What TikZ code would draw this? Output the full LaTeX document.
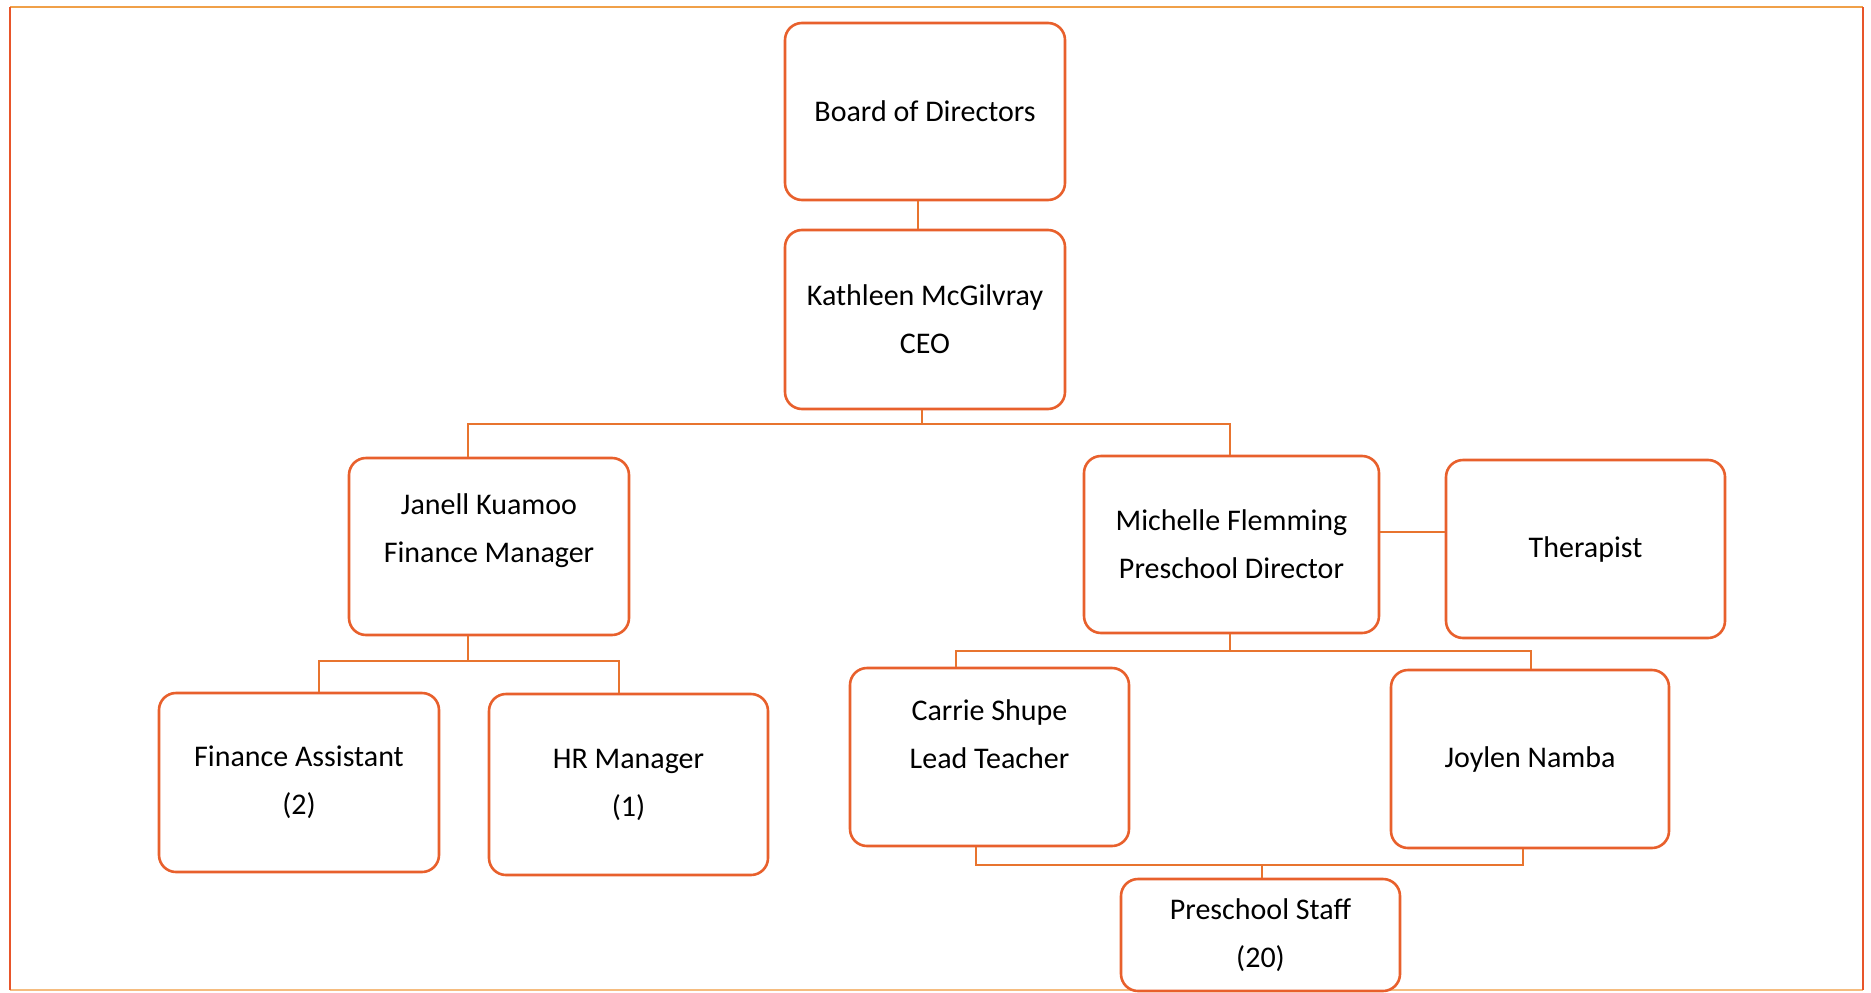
\documentclass[tikz,border=0pt]{standalone}
\usepackage{fontspec}
\setmainfont{Carlito}
\definecolor{boxline}{HTML}{E8602C}
\definecolor{wirec}{HTML}{E8742F}
\definecolor{frametop}{HTML}{F0A048}
\definecolor{frameside}{HTML}{E8552A}
\begin{document}
\begin{tikzpicture}[x=1pt,y=-1pt,
  unit/.style={draw=boxline, line width=2.6pt, rounded corners=17pt, fill=white,
    inner sep=0pt, align=center, font=\fontsize{30}{48}\selectfont},
  caption/.style={inner sep=0pt, align=center, font=\fontsize{30}{48}\selectfont},
  wire/.style={draw=wirec, line width=2pt}]
\useasboundingbox (0,0) rectangle (1871,993);

% outer frame
\draw[frametop, line width=2.2pt] (10,7) -- (1863,7);
\draw[frametop!70, line width=2pt] (10,990) -- (1863,990);
\draw[frameside, line width=2.2pt] (10,7) -- (10,990);
\draw[frameside, line width=2.2pt] (1863,7) -- (1863,990);

% units
\node[unit, minimum width=280pt, minimum height=177pt] (board) at (925,111.5) {Board of Directors};
\node[unit, minimum width=280pt, minimum height=179pt] (ceo) at (925,319.5) {Kathleen McGilvray\\CEO};
\node[unit, minimum width=280pt, minimum height=177pt] (janell) at (489,546.5) {};
\node[caption] at ([yshift=15.5pt]janell.center) {Janell Kuamoo\\Finance Manager};
\node[unit, minimum width=295pt, minimum height=177pt] (michelle) at (1231.5,544.5) {Michelle Flemming\\Preschool Director};
\node[unit, minimum width=279pt, minimum height=178pt] (therapist) at (1585.5,549) {Therapist};
\node[unit, minimum width=280pt, minimum height=179pt] (finassist) at (299,782.5) {Finance Assistant\\(2)};
\node[unit, minimum width=279pt, minimum height=181pt] (hr) at (628.5,784.5) {HR Manager\\(1)};
\node[unit, minimum width=279pt, minimum height=178pt] (carrie) at (989.5,757) {};
\node[caption] at ([yshift=23pt]carrie.center) {Carrie Shupe\\Lead Teacher};
\node[unit, minimum width=278pt, minimum height=178pt] (joylen) at (1530,759) {Joylen Namba};
\node[unit, minimum width=279pt, minimum height=112pt] (staff) at (1260.5,935) {Preschool Staff\\(20)};

% junction points of the bus lines
\coordinate (busceo) at (922,424);
\coordinate (busjanell) at (468,661);
\coordinate (busmichelle) at (1230,651);
\coordinate (busstaff) at (1262,865);

% reporting lines
\draw[wire] ([xshift=-7pt]board.south) -- ([xshift=-7pt]ceo.north);
\draw[wire] ([xshift=-3pt]ceo.south) -- (busceo);
\draw[wire] ([xshift=-21pt]janell.north) |- (busceo) -| ([xshift=-1.5pt]michelle.north);

\draw[wire] ([xshift=-21pt]janell.south) -- (busjanell);
\draw[wire] ([xshift=20pt]finassist.north) |- (busjanell) -| ([xshift=-10pt]hr.north);

\draw[wire] ([yshift=12.5pt]michelle.east) -- ([yshift=12.5pt]michelle.east -| therapist.west);

\draw[wire] ([xshift=-1.5pt]michelle.south) -- (busmichelle);
\draw[wire] ([xshift=-33.5pt]carrie.north) |- (busmichelle) -| ([xshift=1pt]joylen.north);

\draw[wire] ([xshift=-13.5pt]carrie.south) |- (busstaff) -| ([xshift=-7pt]joylen.south);
\draw[wire] (busstaff) -- (staff.north -| busstaff);
\end{tikzpicture}
\end{document}
